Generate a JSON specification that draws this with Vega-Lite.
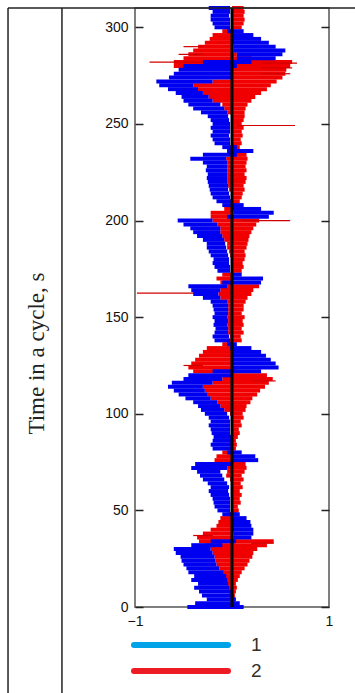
{
  "$schema": "https://vega.github.io/schema/vega-lite/v6.json",
  "autosize": {"type": "none"},
  "width": 194,
  "height": 599,
  "padding": {"left": 135, "top": 8, "right": 26, "bottom": 86},
  "background": "white",
  "config": {
    "view": {"stroke": "#555", "strokeWidth": 1.5},
    "axis": {"labelFont": "Liberation Sans", "labelFontSize": 14, "labelColor": "#111", "grid": false, "domain": false}
  },
  "datasets": {
    "bands": [
      {"t":0,"b0":-0.46,"b1":0.12,"r0":-0.02,"r1":0.04},
      {"t":2,"b0":-0.38,"b1":0.08,"r0":-0.01,"r1":0.03},
      {"t":4,"b0":-0.26,"b1":0.04,"r0":-0.02,"r1":0.03},
      {"t":6,"b0":-0.31,"b1":0.02,"r0":-0.02,"r1":0.03},
      {"t":8,"b0":-0.34,"b1":-0.01,"r0":-0.03,"r1":0.04},
      {"t":10,"b0":-0.39,"b1":-0.03,"r0":-0.04,"r1":0.05},
      {"t":12,"b0":-0.35,"b1":-0.04,"r0":-0.05,"r1":0.04},
      {"t":14,"b0":-0.42,"b1":-0.05,"r0":-0.07,"r1":0.06},
      {"t":16,"b0":-0.39,"b1":-0.06,"r0":-0.08,"r1":0.08},
      {"t":18,"b0":-0.45,"b1":-0.09,"r0":-0.1,"r1":0.1},
      {"t":20,"b0":-0.47,"b1":-0.13,"r0":-0.13,"r1":0.13},
      {"t":22,"b0":-0.5,"b1":-0.16,"r0":-0.16,"r1":0.16},
      {"t":24,"b0":-0.52,"b1":-0.17,"r0":-0.17,"r1":0.18},
      {"t":26,"b0":-0.53,"b1":-0.18,"r0":-0.18,"r1":0.21},
      {"t":28,"b0":-0.58,"b1":-0.2,"r0":-0.2,"r1":0.22},
      {"t":30,"b0":-0.6,"b1":-0.22,"r0":-0.22,"r1":0.26},
      {"t":32,"b0":-0.42,"b1":-0.1,"r0":-0.28,"r1":0.36},
      {"t":34,"b0":-0.22,"b1":0.04,"r0":-0.34,"r1":0.43},
      {"t":36,"b0":0.02,"b1":0.2,"r0":-0.36,"r1":0.05},
      {"t":38,"b0":0.02,"b1":0.22,"r0":-0.3,"r1":0.02},
      {"t":40,"b0":0.01,"b1":0.22,"r0":-0.22,"r1":0.02},
      {"t":42,"b0":0.01,"b1":0.2,"r0":-0.16,"r1":0.01},
      {"t":44,"b0":0.01,"b1":0.19,"r0":-0.14,"r1":0.0},
      {"t":46,"b0":0.0,"b1":0.15,"r0":-0.12,"r1":0.02},
      {"t":48,"b0":-0.1,"b1":0.08,"r0":-0.05,"r1":0.05},
      {"t":50,"b0":-0.15,"b1":-0.02,"r0":0.0,"r1":0.07},
      {"t":52,"b0":-0.18,"b1":-0.02,"r0":0.0,"r1":0.06},
      {"t":54,"b0":-0.19,"b1":-0.02,"r0":0.0,"r1":0.09},
      {"t":56,"b0":-0.2,"b1":-0.02,"r0":0.0,"r1":0.08},
      {"t":58,"b0":-0.22,"b1":-0.03,"r0":0.0,"r1":0.1},
      {"t":60,"b0":-0.24,"b1":-0.04,"r0":0.0,"r1":0.08},
      {"t":62,"b0":-0.22,"b1":-0.03,"r0":0.0,"r1":0.11},
      {"t":64,"b0":-0.25,"b1":-0.05,"r0":0.0,"r1":0.09},
      {"t":66,"b0":-0.3,"b1":-0.08,"r0":-0.02,"r1":0.12},
      {"t":68,"b0":-0.33,"b1":-0.1,"r0":-0.06,"r1":0.1},
      {"t":70,"b0":-0.36,"b1":-0.12,"r0":-0.05,"r1":0.13},
      {"t":72,"b0":-0.42,"b1":-0.05,"r0":-0.05,"r1":0.15},
      {"t":74,"b0":-0.38,"b1":0.0,"r0":-0.1,"r1":0.14},
      {"t":76,"b0":0.01,"b1":0.27,"r0":-0.18,"r1":0.0},
      {"t":78,"b0":0.01,"b1":0.24,"r0":-0.16,"r1":0.0},
      {"t":80,"b0":-0.05,"b1":0.1,"r0":-0.1,"r1":0.02},
      {"t":82,"b0":-0.2,"b1":0.0,"r0":-0.02,"r1":0.04},
      {"t":84,"b0":-0.22,"b1":0.0,"r0":0.0,"r1":0.05},
      {"t":86,"b0":-0.2,"b1":0.0,"r0":0.0,"r1":0.04},
      {"t":88,"b0":-0.19,"b1":-0.01,"r0":0.0,"r1":0.06},
      {"t":90,"b0":-0.21,"b1":-0.02,"r0":0.0,"r1":0.08},
      {"t":92,"b0":-0.22,"b1":-0.02,"r0":0.0,"r1":0.07},
      {"t":94,"b0":-0.24,"b1":-0.02,"r0":0.0,"r1":0.1},
      {"t":96,"b0":-0.22,"b1":-0.02,"r0":0.0,"r1":0.09},
      {"t":98,"b0":-0.24,"b1":-0.03,"r0":0.0,"r1":0.12},
      {"t":100,"b0":-0.28,"b1":-0.05,"r0":-0.02,"r1":0.11},
      {"t":102,"b0":-0.32,"b1":-0.08,"r0":-0.08,"r1":0.14},
      {"t":104,"b0":-0.35,"b1":-0.12,"r0":-0.12,"r1":0.15},
      {"t":106,"b0":-0.4,"b1":-0.15,"r0":-0.15,"r1":0.19},
      {"t":108,"b0":-0.48,"b1":-0.22,"r0":-0.22,"r1":0.21},
      {"t":110,"b0":-0.55,"b1":-0.25,"r0":-0.25,"r1":0.26},
      {"t":112,"b0":-0.6,"b1":-0.28,"r0":-0.28,"r1":0.29},
      {"t":114,"b0":-0.66,"b1":-0.3,"r0":-0.3,"r1":0.34},
      {"t":116,"b0":-0.62,"b1":-0.2,"r0":-0.2,"r1":0.38},
      {"t":118,"b0":-0.5,"b1":-0.1,"r0":-0.1,"r1":0.42},
      {"t":120,"b0":-0.45,"b1":0.0,"r0":0.0,"r1":0.36},
      {"t":122,"b0":-0.2,"b1":0.3,"r0":-0.4,"r1":0.05},
      {"t":124,"b0":0.01,"b1":0.48,"r0":-0.45,"r1":0.0},
      {"t":126,"b0":0.01,"b1":0.45,"r0":-0.42,"r1":0.0},
      {"t":128,"b0":0.01,"b1":0.4,"r0":-0.38,"r1":0.0},
      {"t":130,"b0":0.01,"b1":0.35,"r0":-0.34,"r1":0.0},
      {"t":132,"b0":0.0,"b1":0.3,"r0":-0.3,"r1":0.0},
      {"t":134,"b0":-0.02,"b1":0.2,"r0":-0.26,"r1":0.0},
      {"t":136,"b0":-0.05,"b1":0.05,"r0":-0.1,"r1":0.0},
      {"t":138,"b0":-0.18,"b1":-0.02,"r0":-0.02,"r1":0.1},
      {"t":140,"b0":-0.2,"b1":-0.03,"r0":-0.02,"r1":0.09},
      {"t":142,"b0":-0.18,"b1":-0.04,"r0":-0.04,"r1":0.12},
      {"t":144,"b0":-0.17,"b1":-0.04,"r0":-0.04,"r1":0.1},
      {"t":146,"b0":-0.19,"b1":-0.05,"r0":-0.05,"r1":0.12},
      {"t":148,"b0":-0.18,"b1":-0.04,"r0":-0.04,"r1":0.11},
      {"t":150,"b0":-0.2,"b1":-0.05,"r0":-0.05,"r1":0.13},
      {"t":152,"b0":-0.18,"b1":-0.04,"r0":-0.04,"r1":0.1},
      {"t":154,"b0":-0.19,"b1":-0.04,"r0":-0.04,"r1":0.12},
      {"t":156,"b0":-0.2,"b1":-0.04,"r0":-0.04,"r1":0.12},
      {"t":158,"b0":-0.22,"b1":-0.05,"r0":-0.05,"r1":0.14},
      {"t":160,"b0":-0.3,"b1":-0.12,"r0":-0.12,"r1":0.16},
      {"t":162,"b0":-0.4,"b1":-0.14,"r0":-0.14,"r1":0.2},
      {"t":164,"b0":-0.42,"b1":-0.12,"r0":-0.12,"r1":0.22},
      {"t":166,"b0":-0.45,"b1":-0.05,"r0":-0.05,"r1":0.28},
      {"t":168,"b0":-0.1,"b1":0.3,"r0":-0.12,"r1":0.0},
      {"t":170,"b0":0.01,"b1":0.32,"r0":-0.16,"r1":0.0},
      {"t":172,"b0":0.01,"b1":0.1,"r0":-0.1,"r1":0.02},
      {"t":174,"b0":-0.15,"b1":-0.02,"r0":0.0,"r1":0.1},
      {"t":176,"b0":-0.18,"b1":-0.02,"r0":0.0,"r1":0.12},
      {"t":178,"b0":-0.2,"b1":-0.03,"r0":0.0,"r1":0.11},
      {"t":180,"b0":-0.19,"b1":-0.03,"r0":0.0,"r1":0.13},
      {"t":182,"b0":-0.22,"b1":-0.04,"r0":-0.02,"r1":0.14},
      {"t":184,"b0":-0.24,"b1":-0.05,"r0":-0.03,"r1":0.13},
      {"t":186,"b0":-0.26,"b1":-0.06,"r0":-0.05,"r1":0.15},
      {"t":188,"b0":-0.26,"b1":-0.07,"r0":-0.05,"r1":0.16},
      {"t":190,"b0":-0.3,"b1":-0.08,"r0":-0.08,"r1":0.17},
      {"t":192,"b0":-0.36,"b1":-0.1,"r0":-0.1,"r1":0.18},
      {"t":194,"b0":-0.4,"b1":-0.12,"r0":-0.12,"r1":0.2},
      {"t":196,"b0":-0.43,"b1":-0.12,"r0":-0.12,"r1":0.22},
      {"t":198,"b0":-0.5,"b1":-0.15,"r0":-0.15,"r1":0.25},
      {"t":200,"b0":-0.56,"b1":-0.2,"r0":-0.2,"r1":0.28},
      {"t":202,"b0":-0.05,"b1":0.38,"r0":-0.22,"r1":0.0},
      {"t":204,"b0":0.02,"b1":0.43,"r0":-0.22,"r1":0.02},
      {"t":206,"b0":0.0,"b1":0.3,"r0":-0.08,"r1":0.02},
      {"t":208,"b0":-0.1,"b1":0.12,"r0":0.0,"r1":0.05},
      {"t":210,"b0":-0.16,"b1":-0.01,"r0":0.0,"r1":0.08},
      {"t":212,"b0":-0.2,"b1":-0.02,"r0":0.0,"r1":0.1},
      {"t":214,"b0":-0.22,"b1":-0.03,"r0":0.0,"r1":0.11},
      {"t":216,"b0":-0.23,"b1":-0.04,"r0":-0.03,"r1":0.13},
      {"t":218,"b0":-0.24,"b1":-0.04,"r0":-0.04,"r1":0.12},
      {"t":220,"b0":-0.25,"b1":-0.05,"r0":-0.05,"r1":0.14},
      {"t":222,"b0":-0.26,"b1":-0.05,"r0":-0.05,"r1":0.15},
      {"t":224,"b0":-0.25,"b1":-0.05,"r0":-0.05,"r1":0.13},
      {"t":226,"b0":-0.27,"b1":-0.05,"r0":-0.05,"r1":0.15},
      {"t":228,"b0":-0.26,"b1":-0.05,"r0":-0.05,"r1":0.14},
      {"t":230,"b0":-0.3,"b1":-0.05,"r0":-0.05,"r1":0.15},
      {"t":232,"b0":-0.43,"b1":-0.06,"r0":-0.06,"r1":0.16},
      {"t":234,"b0":-0.3,"b1":0.05,"r0":-0.02,"r1":0.15},
      {"t":236,"b0":-0.05,"b1":0.22,"r0":-0.05,"r1":0.02},
      {"t":238,"b0":-0.1,"b1":0.05,"r0":0.0,"r1":0.08},
      {"t":240,"b0":-0.18,"b1":-0.02,"r0":0.0,"r1":0.1},
      {"t":242,"b0":-0.2,"b1":-0.02,"r0":0.0,"r1":0.09},
      {"t":244,"b0":-0.22,"b1":-0.03,"r0":0.0,"r1":0.11},
      {"t":246,"b0":-0.2,"b1":-0.02,"r0":0.0,"r1":0.1},
      {"t":248,"b0":-0.22,"b1":-0.02,"r0":0.0,"r1":0.12},
      {"t":250,"b0":-0.2,"b1":-0.02,"r0":0.0,"r1":0.1},
      {"t":252,"b0":-0.22,"b1":-0.03,"r0":0.0,"r1":0.12},
      {"t":254,"b0":-0.25,"b1":-0.04,"r0":0.0,"r1":0.13},
      {"t":256,"b0":-0.32,"b1":-0.05,"r0":-0.05,"r1":0.13},
      {"t":258,"b0":-0.4,"b1":-0.08,"r0":-0.08,"r1":0.14},
      {"t":260,"b0":-0.45,"b1":-0.12,"r0":-0.1,"r1":0.16},
      {"t":262,"b0":-0.5,"b1":-0.2,"r0":-0.2,"r1":0.2},
      {"t":264,"b0":-0.52,"b1":-0.24,"r0":-0.24,"r1":0.24},
      {"t":266,"b0":-0.58,"b1":-0.3,"r0":-0.3,"r1":0.3},
      {"t":268,"b0":-0.66,"b1":-0.35,"r0":-0.35,"r1":0.36},
      {"t":270,"b0":-0.75,"b1":-0.4,"r0":-0.4,"r1":0.4},
      {"t":272,"b0":-0.78,"b1":-0.2,"r0":-0.2,"r1":0.46},
      {"t":274,"b0":-0.65,"b1":0.0,"r0":0.0,"r1":0.52},
      {"t":276,"b0":-0.6,"b1":0.0,"r0":0.0,"r1":0.55},
      {"t":278,"b0":-0.55,"b1":0.0,"r0":0.0,"r1":0.56},
      {"t":280,"b0":-0.5,"b1":0.05,"r0":-0.6,"r1":0.6},
      {"t":282,"b0":-0.3,"b1":0.2,"r0":-0.6,"r1":0.62},
      {"t":284,"b0":0.05,"b1":0.45,"r0":-0.5,"r1":0.2},
      {"t":286,"b0":0.05,"b1":0.52,"r0":-0.45,"r1":0.05},
      {"t":288,"b0":0.02,"b1":0.55,"r0":-0.4,"r1":0.02},
      {"t":290,"b0":0.02,"b1":0.45,"r0":-0.35,"r1":0.02},
      {"t":292,"b0":0.0,"b1":0.38,"r0":-0.28,"r1":0.0},
      {"t":294,"b0":0.0,"b1":0.3,"r0":-0.23,"r1":0.0},
      {"t":296,"b0":0.0,"b1":0.22,"r0":-0.2,"r1":0.0},
      {"t":298,"b0":-0.05,"b1":0.12,"r0":-0.1,"r1":0.02},
      {"t":300,"b0":-0.18,"b1":-0.02,"r0":0.0,"r1":0.1},
      {"t":302,"b0":-0.2,"b1":-0.02,"r0":0.0,"r1":0.12},
      {"t":304,"b0":-0.22,"b1":-0.02,"r0":0.0,"r1":0.13},
      {"t":306,"b0":-0.22,"b1":-0.03,"r0":0.0,"r1":0.12},
      {"t":308,"b0":-0.2,"b1":-0.02,"r0":0.0,"r1":0.13},
      {"t":310,"b0":-0.24,"b1":-0.02,"r0":0.0,"r1":0.12}
    ],
    "spikes": [
      {"t":33,"s0":0.2,"s1":0.43},
      {"t":37,"s0":-0.4,"s1":-0.2},
      {"t":117,"s0":0.2,"s1":0.45},
      {"t":125,"s0":-0.5,"s1":-0.3},
      {"t":162.4,"s0":-0.98,"s1":-0.3},
      {"t":200,"s0":0.1,"s1":0.6},
      {"t":249.2,"s0":0.05,"s1":0.65},
      {"t":276,"s0":0.3,"s1":0.6},
      {"t":279,"s0":0.3,"s1":0.62},
      {"t":281.5,"s0":0.3,"s1":0.67},
      {"t":282,"s0":-0.85,"s1":-0.3},
      {"t":286,"s0":-0.55,"s1":-0.3},
      {"t":290,"s0":-0.5,"s1":-0.3}
    ],
    "series": [
      {"k": "1"},
      {"k": "2"}
    ]
  },
  "layer": [
    {
      "data": {"name": "bands"},
      "mark": {"type": "rule", "strokeWidth": 4, "color": "#f00000"},
      "encoding": {
        "y": {"field": "t", "type": "quantitative", "scale": {"domain": [0, 310], "nice": false, "zero": false},
              "axis": {"orient": "left", "values": [0,50,100,150,200,250,300], "tickSize": -8, "tickColor": "#222", "tickWidth": 1.5, "labelPadding": 15,
                       "title": "Time in a cycle, s", "titleFont": "Liberation Serif", "titleFontSize": 23, "titleFontWeight": "normal",
                       "titleColor": "#222", "titleAngle": -90, "titleX": -99, "titleY": 345, "titleAlign": "center", "titleBaseline": "middle"}},
        "x": {"field": "r0", "type": "quantitative", "scale": {"domain": [-1, 1], "nice": false, "zero": false},
              "axis": {"values": [-1, 0, 1], "ticks": false, "labelPadding": 7, "labelFlush": false, "title": null, "format": "d"}},
        "x2": {"field": "r1"}
      }
    },
    {
      "data": {"name": "spikes"},
      "mark": {"type": "rule", "strokeWidth": 1.2, "color": "#d00000"},
      "encoding": {
        "y": {"field": "t", "type": "quantitative",
              "axis": {"orient": "right", "values": [0,50,100,150,200,250,300], "labels": false, "tickSize": -8, "tickColor": "#222", "tickWidth": 1.5, "title": null}},
        "x": {"field": "s0", "type": "quantitative"},
        "x2": {"field": "s1"}
      }
    },
    {
      "data": {"name": "bands"},
      "mark": {"type": "rule", "strokeWidth": 4, "color": "#0000f0"},
      "encoding": {
        "y": {"field": "t", "type": "quantitative", "axis": null},
        "x": {"field": "b0", "type": "quantitative"},
        "x2": {"field": "b1"}
      }
    },
    {
      "data": {"values": [{}]},
      "mark": {"type": "rule", "strokeWidth": 3, "color": "black"},
      "encoding": {"x": {"datum": 0}}
    },
    {
      "data": {"values": [{}]},
      "mark": {"type": "rule", "strokeWidth": 1.5, "color": "#222"},
      "encoding": {"x": {"datum": -2.309}, "y": {"datum": 310, "axis": null}, "y2": {"datum": -50}}
    },
    {
      "data": {"values": [{}]},
      "mark": {"type": "rule", "strokeWidth": 1.5, "color": "#222"},
      "encoding": {"x": {"datum": -1.753}, "y": {"datum": 310, "axis": null}, "y2": {"datum": -50}}
    },
    {
      "data": {"values": [{}]},
      "mark": {"type": "rule", "strokeWidth": 1.5, "color": "#222"},
      "encoding": {"x": {"datum": -2.309}, "x2": {"datum": 1.4}, "y": {"datum": 310, "axis": null}}
    },
    {
      "data": {"name": "series"},
      "mark": {"type": "rule", "strokeWidth": 6, "strokeCap": "round", "clip": true},
      "encoding": {
        "x": {"datum": 5},
        "x2": {"datum": 6},
        "y": {"datum": 100, "axis": null},
        "color": {"field": "k", "type": "nominal",
                  "scale": {"domain": ["1", "2"], "range": ["#00a2e8", "#ed1c24"]},
                  "legend": {"orient": "none", "legendX": 33, "legendY": 624, "title": null, "padding": 0,
                             "symbolType": "M-4.7,0H4.7", "symbolSize": 400, "symbolStrokeWidth": 6, "rowPadding": 1,
                             "labelFont": "Liberation Sans", "labelFontSize": 19, "labelColor": "#33302a", "labelOffset": 57,
                             "encode": {"symbols": {"update": {"strokeCap": {"value": "round"}}}}}}
      }
    }
  ],
  "resolve": {"axis": {"y": "independent"}}
}
